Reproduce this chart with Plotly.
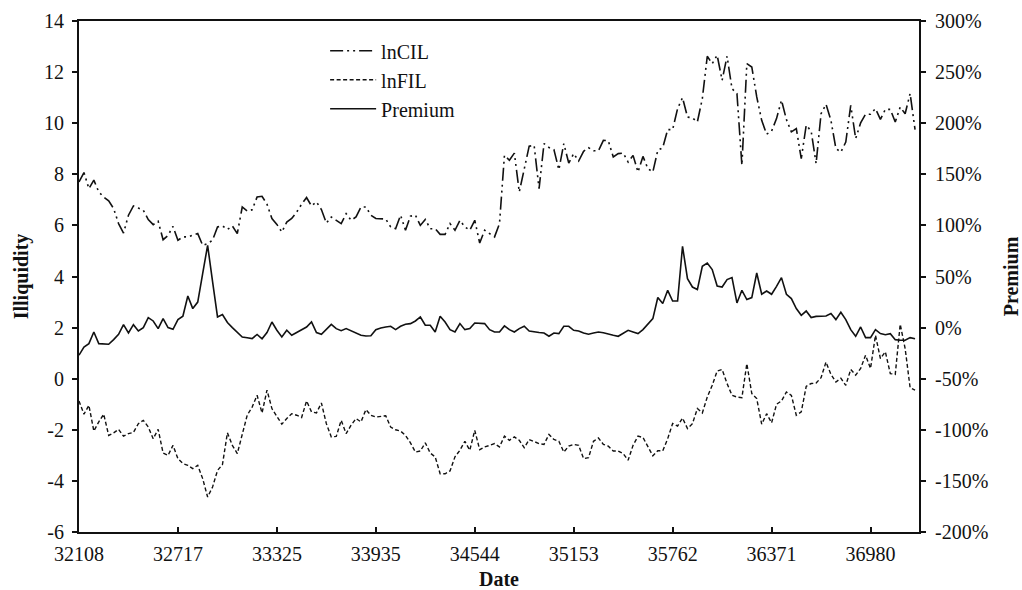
import plotly.graph_objects as go

# Monthly observations (category index); tick labels are Excel serial dates
tick_pos = [0, 20, 40, 60, 80, 100, 120, 140, 160]
tick_labels = ["32108", "32717", "33325", "33935", "34544", "35153", "35762", "36371", "36980"]
left_ticks = [-6, -4, -2, 0, 2, 4, 6, 8, 10, 12, 14]
left_labels = ["-6", "-4", "-2", "0", "2", "4", "6", "8", "10", "12", "14"]
right_ticks = [-200, -150, -100, -50, 0, 50, 100, 150, 200, 250, 300]
right_labels = ["-200%", "-150%", "-100%", "-50%", "0%", "50%", "100%", "150%", "200%", "250%", "300%"]

lnCIL = [7.70, 8.07, 7.44, 7.77, 7.31, 7.11, 6.96, 6.66, 6.07, 5.70,
         6.40, 6.76, 6.68, 6.59, 6.23, 6.03, 6.16, 5.44, 5.61, 5.96,
         5.42, 5.55, 5.55, 5.61, 5.68, 5.22, 5.29, 5.42, 5.94, 5.98,
         5.84, 5.98, 5.68, 6.72, 6.56, 6.61, 7.11, 7.14, 6.83, 6.27,
         6.04, 5.74, 6.13, 6.27, 6.52, 6.83, 7.09, 6.76, 6.92, 6.62,
         6.09, 6.33, 6.20, 6.07, 6.46, 6.20, 6.33, 6.72, 6.72, 6.40,
         6.27, 6.25, 6.25, 5.94, 5.87, 6.40, 5.81, 6.36, 6.40, 6.00,
         6.23, 5.87, 5.87, 5.65, 5.65, 6.07, 5.81, 6.20, 5.94, 5.81,
         6.20, 5.31, 5.81, 5.68, 5.55, 6.07, 8.74, 8.55, 8.83, 7.31,
         8.16, 9.10, 9.13, 7.44, 9.20, 9.05, 8.97, 8.18, 9.20, 8.44,
         8.81, 8.52, 8.90, 9.04, 8.92, 8.92, 9.33, 9.31, 8.68, 8.81,
         8.83, 8.48, 8.74, 8.09, 8.70, 8.22, 8.09, 8.94, 9.04, 9.75,
         9.75, 10.57, 11.00, 10.24, 10.21, 10.05, 10.96, 12.62, 12.33, 12.66,
         11.68, 12.62, 11.35, 11.16, 8.35, 12.33, 12.20, 11.03, 10.11, 9.57,
         9.69, 10.18, 10.90, 10.14, 9.66, 9.79, 8.61, 9.92, 9.69, 8.42,
         10.37, 10.74, 10.11, 9.01, 8.87, 9.26, 10.70, 9.40, 10.01, 10.35,
         10.35, 10.57, 10.15, 10.54, 10.54, 10.05, 10.63, 10.37, 11.16, 9.75]

lnFIL = [-0.87, -1.39, -1.04, -2.05, -1.69, -1.39, -2.22, -2.12, -1.98, -2.25,
         -2.15, -2.10, -1.76, -1.63, -1.89, -2.35, -1.98, -2.91, -3.00, -2.61,
         -3.13, -3.32, -3.39, -3.52, -3.39, -3.91, -4.63, -4.24, -3.59, -3.36,
         -2.12, -2.61, -2.93, -2.15, -1.43, -1.11, -0.65, -1.34, -0.45, -1.17,
         -1.47, -1.78, -1.56, -1.37, -1.43, -1.52, -0.87, -1.30, -1.34, -0.95,
         -1.76, -2.28, -2.26, -1.63, -2.15, -1.82, -1.56, -1.69, -1.21, -1.43,
         -1.50, -1.47, -1.45, -1.89, -2.00, -2.05, -2.22, -2.51, -2.87, -2.83,
         -2.51, -2.91, -3.06, -3.72, -3.72, -3.61, -3.06, -2.80, -2.45, -2.80,
         -2.02, -2.78, -2.67, -2.61, -2.54, -2.67, -2.25, -2.41, -2.28, -2.41,
         -2.70, -2.38, -2.45, -2.54, -2.57, -2.18, -2.38, -2.45, -2.87, -2.64,
         -2.57, -2.61, -3.13, -3.09, -2.45, -2.32, -2.57, -2.64, -2.83, -2.83,
         -2.93, -3.19, -2.61, -2.25, -2.30, -2.64, -3.02, -2.82, -2.82, -2.35,
         -1.75, -1.85, -1.54, -1.95, -1.76, -1.17, -1.34, -0.72, -0.26, 0.30,
         0.36, -0.19, -0.65, -0.72, -0.74, 0.59, -0.58, -0.78, -1.78, -1.37,
         -1.73, -1.00, -0.87, -0.52, -0.65, -1.43, -1.30, -0.30, -0.19, -0.17,
         0.04, 0.65, 0.17, -0.13, 0.02, -0.26, 0.36, 0.14, 0.40, 0.92,
         0.40, 1.70, 0.79, 1.05, 0.20, 0.17, 2.13, 1.18, -0.35, -0.45]

premium_pct = [-27.0, -19.0, -15.7, -4.3, -15.7, -15.7, -16.3, -11.8, -6.6, 2.9,
               -5.3, 2.9, -3.3, 0.0, 9.8, 6.5, -1.0, 8.8, 0.0, -1.7,
               7.8, 11.1, 30.9, 18.6, 25.0, 52.8, 80.5, 45.0, 10.4, 12.7,
               5.0, 0.0, -5.0, -9.2, -10.0, -10.8, -6.7, -11.0, -4.8, 5.5,
               -2.6, -9.2, -2.6, -7.5, -4.8, -2.0, 0.6, 5.5, -4.8, -6.5,
               -2.0, 3.2, -1.0, -3.0, -1.0, -3.3, -5.5, -7.5, -8.2, -8.0,
               -2.0, -0.3, 0.6, 1.3, -2.0, 1.3, 3.2, 3.9, 6.5, 10.4,
               2.3, 2.3, -4.3, 11.1, 5.5, -2.0, -4.3, 3.9, -2.0, -1.0,
               4.5, 4.5, 3.9, -2.0, -4.3, -4.3, 1.6, -2.0, -4.3, -1.0,
               1.3, -3.3, -4.3, -4.8, -5.3, -8.5, -5.3, -5.9, 1.3, 1.3,
               -2.6, -3.3, -5.3, -6.5, -5.3, -4.3, -5.0, -6.5, -7.5, -8.5,
               -5.3, -2.6, -4.3, -5.9, -2.0, 3.0, 8.8, 29.4, 23.5, 36.5,
               26.0, 26.0, 79.5, 47.9, 39.7, 37.2, 60.0, 63.2, 56.8, 40.7,
               39.7, 47.0, 48.9, 24.1, 36.5, 27.4, 29.4, 53.4, 32.6, 35.8,
               32.6, 40.4, 48.9, 32.6, 28.4, 18.6, 12.0, 16.2, 9.8, 11.0,
               11.0, 11.4, 13.7, 7.8, 15.0, 7.8, -2.0, -8.5, 0.6, -9.8,
               -9.8, -2.0, -5.9, -7.0, -6.0, -11.8, -12.4, -12.4, -9.8, -11.0]

idx = list(range(len(lnCIL)))

FONT = "Liberation Serif"
INK = "#111"
fig = go.Figure()
fig.add_trace(go.Scatter(x=idx, y=lnCIL, name="lnCIL", mode="lines",
                         line=dict(color=INK, width=1.6, dash="13px,4px,2px,4px,2px,4px")))
fig.add_trace(go.Scatter(x=idx, y=lnFIL, name="lnFIL", mode="lines",
                         line=dict(color=INK, width=1.4, dash="4px,2.5px")))
fig.add_trace(go.Scatter(x=idx, y=premium_pct, name="Premium", mode="lines", yaxis="y2",
                         line=dict(color=INK, width=1.6)))

axis_common = dict(showline=True, linecolor=INK, linewidth=2, showgrid=False, zeroline=False,
                   tickcolor=INK, tickwidth=2, ticklen=5, automargin=False)
ghost = dict(showticklabels=False, showline=False, showgrid=False, zeroline=False,
             tickcolor=INK, tickwidth=2, automargin=False)
xr = [0, 169.8]
fig.update_layout(
    width=1022, height=590,
    margin=dict(l=79, r=103, t=21, b=58),
    paper_bgcolor="white", plot_bgcolor="white",
    font=dict(family=FONT, size=20, color=INK),
    showlegend=True,
    legend=dict(x=0.293, y=0.98, xanchor="left", yanchor="top",
                bgcolor="rgba(0,0,0,0)", font=dict(size=20, family=FONT),
                tracegroupgap=0, itemwidth=46),
    xaxis=dict(range=xr, tickmode="array", tickvals=tick_pos, ticktext=tick_labels,
               ticks="inside", mirror=True, ticklabelstandoff=3,
               title=dict(text="<b>Date</b>", standoff=19, font=dict(size=20, family=FONT)),
               **axis_common),
    xaxis2=dict(range=xr, overlaying="x", matches="x", tickmode="array", tickvals=tick_pos,
                ticks="outside", ticklen=4, side="bottom", **ghost),
    yaxis=dict(range=[-6, 14], tickmode="array", tickvals=left_ticks, ticktext=left_labels,
               ticks="outside", ticklabelstandoff=4,
               title=dict(text="<b>Illiquidity</b>", standoff=10, font=dict(size=20, family=FONT)),
               **axis_common),
    yaxis2=dict(range=[-200, 300], tickmode="array", tickvals=right_ticks, ticktext=right_labels,
                overlaying="y", side="right", ticks="outside", ticklabelstandoff=5,
                title=dict(text="<b>Premium</b>", standoff=20, font=dict(size=20, family=FONT)),
                **axis_common),
    yaxis3=dict(range=[-6, 14], tickmode="array", tickvals=left_ticks, overlaying="y",
                side="left", ticks="inside", ticklen=5, **ghost),
    yaxis4=dict(range=[-200, 300], tickmode="array", tickvals=right_ticks, overlaying="y",
                side="right", ticks="inside", ticklen=5, **ghost),
)

fig.write_html("out.html")
